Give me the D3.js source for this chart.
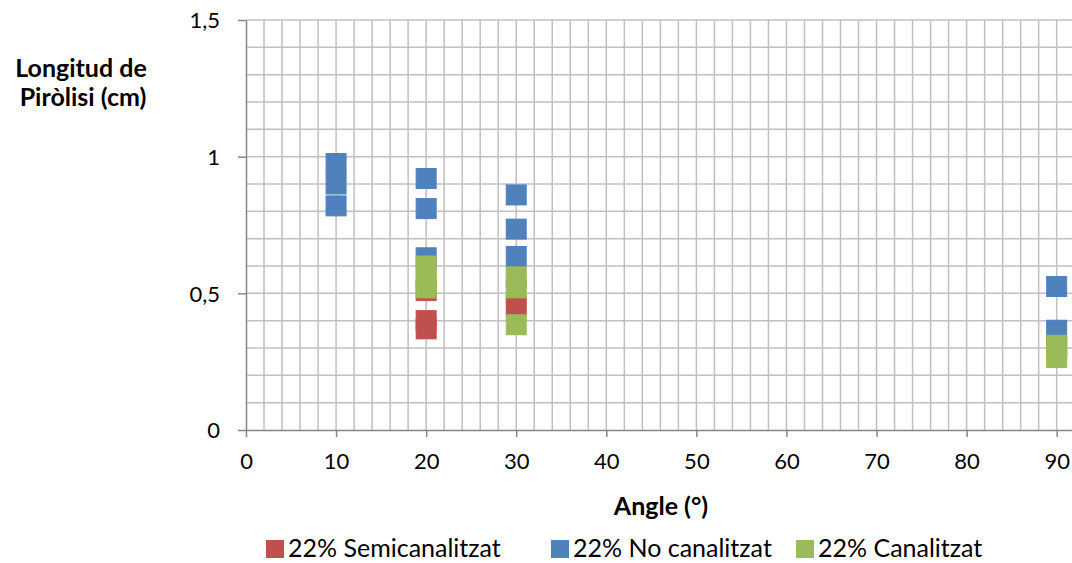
<!DOCTYPE html>
<meta charset="utf-8">
<style>
body { margin: 0; background: #fff; }
svg text { font-family: Lato, "Open Sans", sans-serif; fill: #000; }
.grid line { stroke: #c0c0c0; stroke-width: 1.5px; }
.axis path, .axis line { stroke: #868686; stroke-width: 1.5px; }
.axis text { font-size: 22px; }
.title { font-size: 25px; font-weight: bold; }
.legend text { font-size: 25px; }
</style>
<body>
<svg id="chart" width="1072" height="563"></svg>
<script src="https://cdnjs.cloudflare.com/ajax/libs/d3/7.8.5/d3.min.js"></script>
<script>
// values
var seriesNames = ["22% Semicanalitzat", "22% No canalitzat", "22% Canalitzat"];
var seriesColors = ["#c0504d", "#4f81bd", "#9bbb59"];

var semiAngle = [20, 20, 20, 30, 90];
var semiLen   = [0.51, 0.40, 0.37, 0.455, 0.30];

var noAngle = [10, 10, 10, 20, 20, 20, 30, 30, 30, 90, 90];
var noLen   = [0.975, 0.90, 0.82, 0.92, 0.81, 0.63, 0.86, 0.735, 0.635, 0.525, 0.365];

var canAngle = [20, 20, 20, 30, 30, 30, 90, 90];
var canLen   = [0.60, 0.56, 0.52, 0.56, 0.52, 0.385, 0.31, 0.265];

var xTicks = [0, 10, 20, 30, 40, 50, 60, 70, 80, 90];
var yTicks = [0, 0.5, 1, 1.5];

var series = [
  {name: seriesNames[0], color: seriesColors[0], x: semiAngle, y: semiLen},
  {name: seriesNames[1], color: seriesColors[1], x: noAngle, y: noLen},
  {name: seriesNames[2], color: seriesColors[2], x: canAngle, y: canLen}
];

var svg = d3.select("#chart");
var plotL = 246, plotR = 1072, plotT = 20, plotB = 430;

var x = d3.scaleLinear().domain([0, 91.7]).range([plotL, plotR]);
var y = d3.scaleLinear().domain([0, 1.5]).range([plotB, plotT]);

var grid = svg.append("g").attr("class", "grid");
grid.selectAll(".v").data(d3.range(2, 91.7, 2)).enter().append("line")
  .attr("x1", function(d) { return x(d); }).attr("x2", function(d) { return x(d); })
  .attr("y1", plotT).attr("y2", plotB);
grid.selectAll(".h").data(d3.range(1, 16)).enter().append("line")
  .attr("x1", plotL).attr("x2", plotR)
  .attr("y1", function(d) { return y(d / 10); }).attr("y2", function(d) { return y(d / 10); });

var xAxis = svg.append("g").attr("class", "axis")
  .attr("transform", "translate(0," + plotB + ")")
  .call(d3.axisBottom(x).tickValues(xTicks).tickSize(7).tickSizeOuter(0));
xAxis.selectAll("text").attr("y", 39).attr("dy", "0");

var yAxis = svg.append("g").attr("class", "axis")
  .attr("transform", "translate(" + plotL + ",0)")
  .call(d3.axisLeft(y).tickValues(yTicks).tickSize(8).tickSizeOuter(0)
    .tickFormat(function(d) { return String(d).replace(".", ","); }));
yAxis.selectAll("text").attr("x", -26).attr("dy", "0.36em");

// markers, drawn in series order so green ends up on top
var S = 20;
series.forEach(function(s) {
  svg.append("g").selectAll("rect").data(s.x).enter().append("rect")
    .attr("x", function(d) { return x(d) - S / 2; })
    .attr("y", function(d, i) { return y(s.y[i]) - S / 2; })
    .attr("width", S).attr("height", S)
    .attr("fill", s.color)
    .attr("stroke", s.color).attr("stroke-width", 1);
});

svg.append("text").attr("class", "title").attr("x", 661).attr("y", 515)
  .attr("text-anchor", "middle").text("Angle (°)");
svg.append("text").attr("class", "title").attr("x", 81).attr("y", 77)
  .attr("text-anchor", "middle").text("Longitud de");
svg.append("text").attr("class", "title").attr("x", 83).attr("y", 106)
  .attr("text-anchor", "middle").text("Piròlisi (cm)");

var legendX = [266, 551, 796];
var legend = svg.append("g").attr("class", "legend");
series.forEach(function(s, i) {
  legend.append("rect").attr("x", legendX[i]).attr("y", 540)
    .attr("width", 18).attr("height", 18).attr("fill", s.color);
  legend.append("text").attr("x", legendX[i] + 22).attr("y", 557).text(s.name);
});
</script>
</body>
